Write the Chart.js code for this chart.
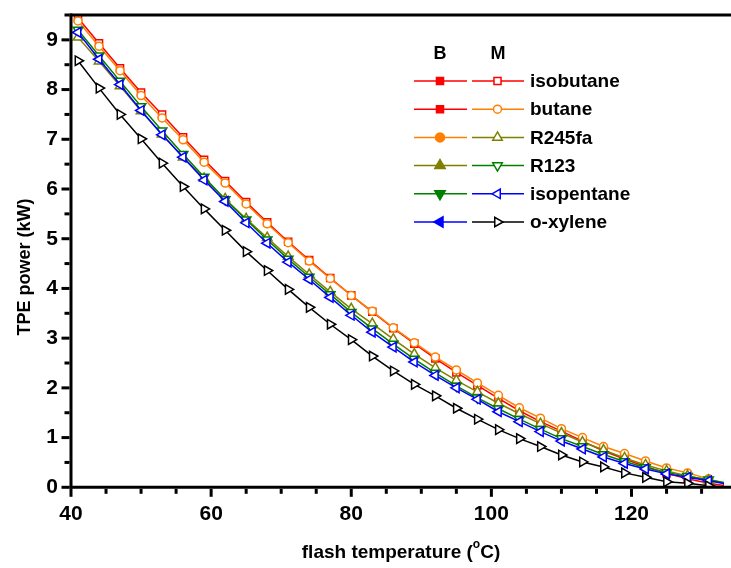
<!DOCTYPE html>
<html><head><meta charset="utf-8">
<script src="https://cdn.jsdelivr.net/npm/chart.js@4/dist/chart.umd.min.js"></script>
<style>html,body{margin:0;padding:0;background:#fff;overflow:hidden}</style>
</head><body>
<canvas id="c" width="731" height="568" style="display:block;width:731px;height:568px"></canvas>
<script>
// ---- data ----
const flashTemp  = [41,44,47,50,53,56,59,62,65,68,71,74,77,80,83,86,89,92,95,98,101,104,107,110,113,116,119,122,125,128,131,134];
const isobutane  = [9.44,8.93,8.43,7.94,7.50,7.04,6.59,6.16,5.74,5.33,4.94,4.57,4.21,3.86,3.53,3.20,2.89,2.59,2.31,2.05,1.79,1.54,1.32,1.13,0.93,0.73,0.57,0.42,0.28,0.17,0.08,0.02];
const butane     = [9.38,8.87,8.38,7.88,7.43,6.99,6.54,6.12,5.70,5.30,4.92,4.55,4.20,3.86,3.54,3.21,2.91,2.62,2.36,2.10,1.85,1.60,1.39,1.18,1.00,0.82,0.68,0.53,0.39,0.29,0.17,0.05];
const r245fa     = [9.05,8.57,8.07,7.57,7.10,6.64,6.21,5.80,5.40,5.02,4.64,4.28,3.93,3.59,3.29,2.98,2.68,2.40,2.15,1.92,1.69,1.48,1.28,1.09,0.91,0.75,0.59,0.45,0.33,0.23,0.14,0.06];
const r123       = [9.20,8.68,8.17,7.66,7.17,6.70,6.24,5.79,5.38,4.98,4.59,4.23,3.88,3.52,3.19,2.88,2.58,2.30,2.04,1.80,1.58,1.37,1.17,0.98,0.82,0.66,0.52,0.40,0.30,0.22,0.15,0.08];
const isopentane = [9.15,8.61,8.10,7.58,7.09,6.64,6.18,5.75,5.32,4.91,4.53,4.18,3.82,3.46,3.12,2.82,2.52,2.25,2.00,1.77,1.52,1.32,1.12,0.93,0.77,0.61,0.48,0.37,0.27,0.20,0.13,0.06];
const oxylene    = [8.58,8.03,7.50,7.01,6.52,6.05,5.60,5.17,4.74,4.36,3.98,3.62,3.28,2.97,2.64,2.34,2.07,1.84,1.59,1.37,1.16,0.98,0.82,0.65,0.51,0.41,0.29,0.20,0.11,0.08,0.03,0.00];
const seriesNames = ['isobutane','butane','R245fa','R123','isopentane','o-xylene'];
const xTickLabels = [40,60,80,100,120];
const yTickLabels = [0,1,2,3,4,5,6,7,8,9];
const legendHeaders = ['B','M'];
const xTitle = ['flash temperature (', 'o', 'C)'];
const yTitle = 'TPE power (kW)';

// ---- styles ----
const FONT = "'Liberation Sans', Arial, sans-serif";
const seriesValues = [isobutane, butane, r245fa, r123, isopentane, oxylene];
const mStyles = [
  {color:'#FF0000', style:'rect', rot:0, r:5},
  {color:'#FF8000', style:'circle', rot:0, r:4},
  {color:'#808000', style:'triangle', rot:0, r:5.5},
  {color:'#008000', style:'triangle', rot:180, r:5.5},
  {color:'#0000FF', style:'triangle', rot:-90, r:5.5},
  {color:'#000000', style:'triangle', rot:90, r:5.5}
];
const bStyles = [
  {color:'#FF0000', style:'rect', rot:0, r:5},
  {color:'#FF0000', style:'rect', rot:0, r:5},
  {color:'#FF8000', style:'circle', rot:0, r:4.5},
  {color:'#808000', style:'triangle', rot:0, r:6},
  {color:'#008000', style:'triangle', rot:180, r:6},
  {color:'#0000FF', style:'triangle', rot:-90, r:6}
];

const datasets = seriesNames.map((name,i)=>({
  label: name + ' M',
  data: flashTemp.map((x,j)=>({x:x, y:seriesValues[i][j]})),
  borderColor: mStyles[i].color,
  backgroundColor: '#ffffff',
  pointBackgroundColor: '#ffffff',
  pointBorderColor: mStyles[i].color,
  pointStyle: mStyles[i].style,
  pointRotation: mStyles[i].rot,
  pointRadius: mStyles[i].r,
  pointBorderWidth: 1.5,
  borderWidth: 1.5,
  tension: 0,
  order: 6 - i
}));

const decor = {
  id: 'decor',
  afterDatasetsDraw(chart){
    const ctx = chart.ctx, xs = chart.scales.x, ys = chart.scales.y;
    const x0 = xs.getPixelForValue(xs.min), y0 = ys.getPixelForValue(0), yT = ys.getPixelForValue(ys.max);
    const xR = chart.width;
    ctx.save();
    ctx.strokeStyle = '#000'; ctx.fillStyle = '#000'; ctx.lineCap = 'butt';
    const seg = (a,b,c,d)=>{ctx.beginPath(); ctx.moveTo(a,b); ctx.lineTo(c,d); ctx.stroke();};
    ctx.lineWidth = 3;
    seg(x0, yT-1.5, x0, y0+1.5);
    seg(x0-1.5, y0, xR, y0);
    seg(x0-1.5, yT, xR, yT);
    ctx.lineWidth = 3;
    for (let k=0; k<=19; k++){
      const v = k*0.5; const y = ys.getPixelForValue(v);
      const L = (k%2===0) ? 8 : 5;
      seg(x0-1.5, y, x0-1.5-L, y);
    }
    for (let v=40; v<=xs.max; v+=5){
      const x = xs.getPixelForValue(v);
      const L = (v%20===0) ? 8 : 5;
      seg(x, y0+1.5, x, y0+1.5+L);
    }
    // y title
    ctx.save();
    ctx.translate(25, 267);
    ctx.rotate(-Math.PI/2);
    ctx.font = 'bold 18px ' + FONT;
    ctx.textAlign = 'center'; ctx.textBaseline = 'middle';
    ctx.fillText(yTitle, 0, 0);
    ctx.restore();
    // x title with superscript
    const big = 'bold 19px ' + FONT, small = 'bold 12px ' + FONT;
    ctx.font = big; const w1 = ctx.measureText(xTitle[0]).width, w3 = ctx.measureText(xTitle[2]).width;
    ctx.font = small; const w2 = ctx.measureText(xTitle[1]).width;
    let tx = (x0 + xR)/2 - (w1+w2+w3)/2, ty = 553;
    ctx.textAlign = 'left'; ctx.textBaseline = 'middle';
    ctx.font = big; ctx.fillText(xTitle[0], tx, ty); tx += w1;
    ctx.font = small; ctx.fillText(xTitle[1], tx, ty-8); tx += w2;
    ctx.font = big; ctx.fillText(xTitle[2], tx, ty);
    // legend
    ctx.textAlign = 'center';
    ctx.font = 'bold 18px ' + FONT;
    ctx.fillText(legendHeaders[0], 440, 54);
    ctx.fillText(legendHeaders[1], 498, 54);
    const rowY0 = 81, dy = 28.2;
    const drawSample = (st, filled, xa, xb, xm, y)=>{
      ctx.strokeStyle = st.color; ctx.lineWidth = 1.5;
      seg(xa, y, xb, y);
      ctx.fillStyle = filled ? st.color : '#ffffff';
      Chart.helpers.drawPoint(ctx, {pointStyle: st.style, rotation: st.rot, radius: st.r, borderWidth: 1.5}, xm, y);
    };
    for (let i=0; i<seriesNames.length; i++){
      const y = rowY0 + i*dy;
      drawSample(bStyles[i], true, 414, 467, 440, y);
      drawSample(mStyles[i], false, 472, 524, 497.5, y);
      ctx.fillStyle = '#000';
      ctx.textAlign = 'left';
      ctx.font = 'bold 19px ' + FONT;
      ctx.fillText(seriesNames[i], 530, y+1);
    }
    ctx.restore();
  }
};

new Chart(document.getElementById('c'), {
  type: 'line',
  data: { datasets },
  options: {
    responsive: false,
    animation: false,
    devicePixelRatio: 1,
    layout: { padding: {top: 15, right: 0, bottom: 0, left: 0} },
    plugins: { legend: {display:false}, tooltip: {enabled:false} },
    scales: {
      x: {
        type: 'linear', min: 40, max: 133.2,
        afterBuildTicks: s => { s.ticks = xTickLabels.map(v=>({value:v})); },
        afterFit: s => { s.height = 80.7; s.paddingLeft = 0; s.paddingRight = 0; },
        grid: {display:false, drawTicks:false},
        border: {display:false},
        ticks: {color:'#000', padding: 14, maxRotation:0, autoSkip:false,
                font:{family:FONT, size:21, weight:'bold'}}
      },
      y: {
        type: 'linear', min: 0, max: 9.5,
        afterBuildTicks: s => { s.ticks = yTickLabels.map(v=>({value:v})); },
        afterFit: s => { s.width = 71; s.paddingTop = 0; s.paddingBottom = 0; },
        grid: {display:false, drawTicks:false},
        border: {display:false},
        ticks: {color:'#000', padding: 13, font:{family:FONT, size:21, weight:'bold'}}
      }
    }
  },
  plugins: [decor]
});
</script>
</body></html>
